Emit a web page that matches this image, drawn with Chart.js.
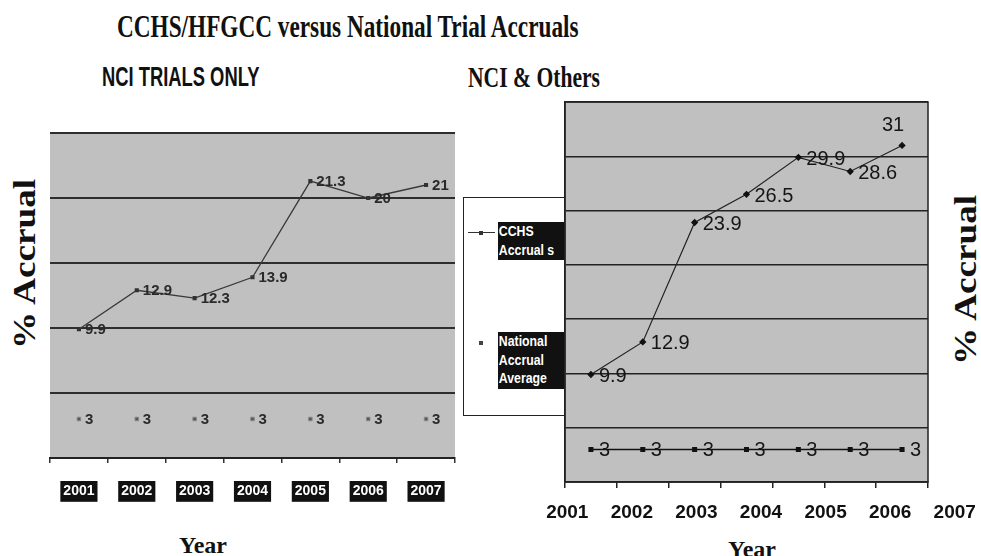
<!DOCTYPE html>
<html>
<head>
<meta charset="utf-8">
<script src="https://cdn.jsdelivr.net/npm/chart.js@4.4.0/dist/chart.umd.min.js"></script>
<style>
  body { margin: 0; background: #fff; }
  #page { position: relative; width: 981px; height: 556px; overflow: hidden; font-family: "Liberation Sans", Arial, sans-serif; }
  .abs { position: absolute; white-space: nowrap; line-height: 1; }
  .serif { font-family: "Liberation Serif", "Times New Roman", serif; font-weight: bold; color: #111; }
  .sans { font-family: "Liberation Sans", Arial, sans-serif; font-weight: bold; color: #111; }
  .squeeze { transform-origin: 0 0; }
  .ytitle { font-size: 32px; transform: translate(-50%, -50%) rotate(-90deg) scaleX(1.16); }
  .lg { background: #111; color: #fff; font: bold 15px "Liberation Sans", Arial, sans-serif; line-height: 18.5px; width: 100px; padding-left: 1px; transform: scaleX(0.82); transform-origin: 0 0; }
  canvas { position: absolute; }
</style>
</head>
<body>
<div id="page">
  <div class="abs serif squeeze" style="left:117px;top:11px;font-size:31px;transform:scaleX(0.75)">CCHS/HFGCC versus National Trial Accruals</div>
  <div class="abs sans squeeze" style="left:102px;top:64px;font-size:27px;transform:scaleX(0.68)">NCI TRIALS ONLY</div>
  <div class="abs serif squeeze" style="left:468px;top:62px;font-size:30px;transform:scaleX(0.72)">NCI &amp; Others</div>

  <div class="abs serif ytitle" style="left:24px;top:264px">% Accrual</div>
  <div class="abs serif ytitle" style="left:965px;top:280px">% Accrual</div>

  <div class="abs serif" style="left:203px;top:533px;font-size:24px;transform:translateX(-50%)">Year</div>
  <div class="abs serif" style="left:752px;top:537px;font-size:24px;transform:translateX(-50%)">Year</div>

  <!-- legend box, partly hidden under the right plot -->
  <div class="abs" style="left:463px;top:197px;width:120px;height:217px;border:1px solid #222;background:#fff;z-index:1"></div>
  <div class="abs" style="left:468px;top:232px;width:27px;height:1px;background:#333;z-index:1"></div>
  <div class="abs" style="left:479px;top:231px;width:4px;height:4px;background:#333;z-index:1"></div>
  <div class="abs lg" style="left:498px;top:222px;height:38px;z-index:1">CCHS<br>Accrual s</div>
  <div class="abs" style="left:479px;top:341px;width:4px;height:4px;background:#444;z-index:1"></div>
  <div class="abs lg" style="left:498px;top:332px;height:57px;z-index:1">National<br>Accrual<br>Average</div>

  <canvas id="left" width="430" height="410" style="left:40px;top:100px;z-index:0"></canvas>
  <canvas id="right" width="441" height="440" style="left:540px;top:90px;z-index:2"></canvas>
</div>

<script>
const years = ['2001', '2002', '2003', '2004', '2005', '2006', '2007']
const nciOnlyCchs = [9.9, 12.9, 12.3, 13.9, 21.3, 20, 21]
const nciOnlyNational = [3, 3, 3, 3, 3, 3, 3]
const nciOthersCchs = [9.9, 12.9, 23.9, 26.5, 29.9, 28.6, 31]
const nciOthersNational = [3, 3, 3, 3, 3, 3, 3]

const plotGray = '#c0c0c0'

// fills the plot area, optional frame round it
function plotBackground(frame) {
  return {
    id: 'plotBackground',
    beforeDraw(chart) {
      const a = chart.chartArea
      const ctx = chart.ctx
      ctx.save()
      ctx.fillStyle = plotGray
      ctx.fillRect(a.left, a.top, a.right - a.left, a.bottom - a.top)
      ctx.restore()
    },
    afterDraw(chart) {
      if (!frame) return
      const a = chart.chartArea
      const ctx = chart.ctx
      ctx.save()
      ctx.strokeStyle = '#222'
      ctx.lineWidth = 1.5
      ctx.strokeRect(a.left, a.top, a.right - a.left, a.bottom - a.top)
      ctx.restore()
    }
  }
}

// value labels next to each point
function pointLabels(font, color, place) {
  return {
    id: 'pointLabels',
    afterDatasetsDraw(chart) {
      const ctx = chart.ctx
      ctx.save()
      ctx.font = font
      ctx.fillStyle = color
      ctx.textBaseline = 'middle'
      chart.data.datasets.forEach((ds, di) => {
        chart.getDatasetMeta(di).data.forEach((pt, i) => {
          const p = place(di, i)
          ctx.textAlign = p.align
          ctx.fillText(String(ds.data[i]), pt.x + p.dx, pt.y + p.dy)
        })
      })
      ctx.restore()
    }
  }
}

// left chart: NCI trials only
new Chart(document.getElementById('left'), {
  type: 'line',
  data: {
    labels: years,
    datasets: [{
      label: 'CCHS Accruals',
      data: nciOnlyCchs,
      borderColor: '#3a3a3a',
      borderWidth: 1.3,
      pointStyle: 'rect',
      pointRadius: 2,
      pointBackgroundColor: '#333',
      pointBorderColor: '#333',
      tension: 0
    }, {
      label: 'National Accrual Average',
      data: nciOnlyNational,
      showLine: false,
      pointStyle: 'rect',
      pointRadius: 2.5,
      pointBackgroundColor: '#555',
      pointBorderColor: '#8a8a8a',
      pointBorderWidth: 1
    }]
  },
  options: {
    responsive: false,
    animation: false,
    layout: { padding: { left: 10, right: 15, top: 33, bottom: 0 } },
    plugins: { legend: { display: false }, tooltip: { enabled: false } },
    scales: {
      x: {
        offset: true,
        grid: { offset: true, drawOnChartArea: false, drawTicks: true, tickLength: 5, color: '#333', lineWidth: 1.5 },
        border: { display: true, color: '#222', width: 2 },
        ticks: {
          color: '#fff',
          font: { family: 'Liberation Sans', weight: 'bold', size: 14 },
          showLabelBackdrop: true,
          backdropColor: '#111',
          backdropPadding: { x: 3, y: 2 },
          padding: 20,
          autoSkip: false,
          maxRotation: 0
        },
        afterFit: s => { s.height = 52 }
      },
      y: {
        min: 0,
        max: 25,
        ticks: { stepSize: 5, display: false },
        grid: { color: '#2e2e2e', lineWidth: 2, drawTicks: false },
        border: { display: false },
        afterFit: s => { s.width = 0 }
      }
    }
  },
  plugins: [
    plotBackground(false),
    pointLabels('bold 15px "Liberation Sans", Arial, sans-serif', '#2a2a2a', () => ({ align: 'left', dx: 6, dy: 1 }))
  ]
})

// right chart: NCI & others, year labels sit on their own stretched axis
const stretchYearAxis = {
  id: 'stretchYearAxis',
  afterLayout(chart) {
    const s = chart.scales.x2
    s.left = -5
    s.right = 447
    s.width = s.right - s.left
    s.configure()
    s._labelItems = null
  }
}

new Chart(document.getElementById('right'), {
  type: 'line',
  data: {
    labels: years,
    datasets: [{
      label: 'CCHS Accruals',
      data: nciOthersCchs,
      borderColor: '#222',
      borderWidth: 1.2,
      pointStyle: 'rectRot',
      pointRadius: 2.8,
      pointBackgroundColor: '#111',
      pointBorderColor: '#111',
      tension: 0
    }, {
      label: 'National Accrual Average',
      data: nciOthersNational,
      borderColor: '#111',
      borderWidth: 1.5,
      pointStyle: 'rect',
      pointRadius: 2.5,
      pointBackgroundColor: '#111',
      pointBorderColor: '#111'
    }]
  },
  options: {
    responsive: false,
    animation: false,
    layout: { padding: { left: 25, right: 53, top: 12, bottom: 0 } },
    plugins: { legend: { display: false }, tooltip: { enabled: false } },
    scales: {
      x: {
        offset: true,
        grid: { offset: true, drawOnChartArea: false, drawTicks: true, tickLength: 6, color: '#222', lineWidth: 1.5 },
        border: { display: true, color: '#222', width: 1.5 },
        ticks: { display: false },
        afterFit: s => { s.height = 6 }
      },
      x2: {
        type: 'category',
        position: 'bottom',
        labels: years,
        offset: true,
        grid: { display: false },
        border: { display: false },
        ticks: {
          color: '#111',
          font: { family: 'Liberation Sans', weight: 'bold', size: 19 },
          padding: 5,
          autoSkip: false,
          maxRotation: 0
        },
        afterFit: s => { s.height = 42 }
      },
      y: {
        min: 0,
        max: 35,
        ticks: { stepSize: 5, display: false },
        grid: { color: '#222', lineWidth: 1.5, drawTicks: false },
        border: { display: true, color: '#222', width: 1.5 },
        afterFit: s => { s.width = 0 }
      }
    }
  },
  plugins: [
    plotBackground(true),
    stretchYearAxis,
    pointLabels('20px "Liberation Sans", Arial, sans-serif', '#151515', (di, i) => {
      if (di === 0 && i === 6) return { align: 'center', dx: -9, dy: -20 }
      return { align: 'left', dx: 8, dy: di === 0 ? 2 : 1 }
    })
  ]
})
</script>
</body>
</html>
